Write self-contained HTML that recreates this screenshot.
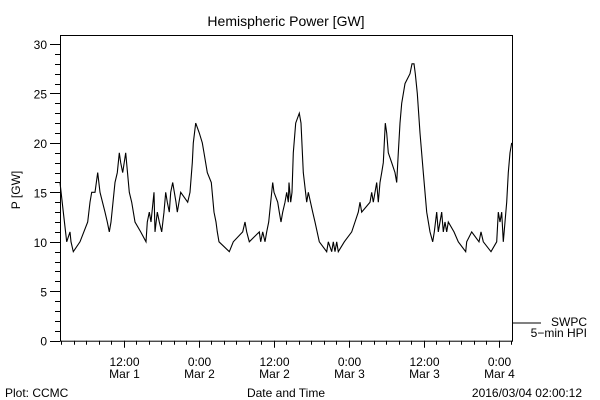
<!DOCTYPE html>
<html><head><meta charset="utf-8"><style>
body{margin:0;background:#fff;}
svg{display:block;font-family:"Liberation Sans",sans-serif;}
text{fill:#000;font-size:12px;}
</style></head><body>
<svg id="chart" width="600" height="400">
<text x="286" y="26" text-anchor="middle" style="font-size:14px">Hemispheric Power [GW]</text>
<text transform="translate(20,190) rotate(-90)" text-anchor="middle">P [GW]</text>
<text x="286" y="397" text-anchor="middle">Date and Time</text>
<text x="5" y="397">Plot: CCMC</text>
<text x="582" y="397" text-anchor="end">2016/03/04 02:00:12</text>
<g id="axes"></g>
<g id="series"></g>
<line x1="512" y1="323" x2="541" y2="323" stroke="#000"/>
<text x="587" y="326" text-anchor="end">SWPC</text>
<text x="587" y="337" text-anchor="end">5−min HPI</text>
</svg>
<script>
// hours since plot start (Mar 1 01:48)
const times=[0,0.53,1.07,1.6,1.76,2.13,3.2,4.43,4.8,5.07,5.6,6.03,6.4,7.2,7.57,7.89,8.16,8.8,9.17,9.49,9.71,10.03,10.51,11.09,11.47,12.0,12.91,13.76,13.97,14.29,14.56,15.04,15.2,15.57,15.89,16.27,16.64,16.91,17.17,17.49,17.71,18.03,18.56,18.77,19.04,19.31,20.43,20.8,21.17,21.33,21.71,22.29,22.77,23.04,23.57,24.21,24.64,24.96,25.17,25.44,27.09,27.73,29.23,29.6,29.87,30.29,31.89,32.11,32.43,32.8,33.07,33.39,33.71,34.03,34.24,34.83,35.09,35.36,35.63,36.0,36.27,36.53,36.64,36.91,37.12,37.33,37.71,38.29,38.56,38.93,39.47,39.73,40.43,40.8,41.49,42.67,42.93,43.47,43.73,44.0,44.27,44.53,45.49,46.67,47.2,47.73,48.0,48.27,49.6,49.87,50.13,50.4,50.67,50.93,51.2,51.47,51.73,52.05,52.27,52.53,53.07,53.6,53.87,54.13,54.4,54.67,55.2,56.0,56.32,56.64,56.85,57.17,57.6,58.13,58.67,59.2,59.63,59.89,60.27,60.53,60.8,61.07,61.33,61.6,61.87,62.13,63.04,63.73,64.91,65.07,65.87,67.04,67.36,67.73,68.96,69.87,70.13,70.4,70.67,70.93,71.2,71.47,71.73,72.0,72.27];
const power=[16,13,10,11,10,9,10,12,14,15,15,17,15,13,12,11,12,16,17,19,18,17,19,15,14,12,11,10,12,13,12,15,11,13,12,11,13,15,14,13,15,16,14,13,14,15,14,15,18,20,22,21,20,19,17,16,13,12,11,10,9,10,11,12,11,10,11,10,11,10,11,12,14,16,15,14,13,12,13,14,15,14,16,14,15,19,22,23,22,17,14,15,13,12,10,9,10,9,10,9,10,9,10,11,12,13,14,13,14,15,14,15,16,14,16,17,18,22,21,19,18,17,16,19,22,24,26,27,28,28,27,25,21,17,13,11,10,11,13,11,12,13,11,12,11,12,11,10,9,10,11,10,11,10,9,10,13,12,13,10,12,14,17,19,20];
const yTicks=[0,5,10,15,20,25,30];
const xTickHours=[10.2,22.2,34.2,46.2,58.2,70.2];
const xTickTime=["12:00","0:00","12:00","0:00","12:00","0:00"];
const xTickDate=["Mar 1","Mar 2","Mar 2","Mar 3","Mar 3","Mar 4"];
const X0=60,X1=512,Y0=340.7,Y1=44;
const hMax=(X1-X0)/6.25;
const sx=h=>X0+h*6.25;
const sy=v=>Y0-(v/30)*(Y0-Y1);
const NS="http://www.w3.org/2000/svg";
const ax=document.getElementById('axes'), se=document.getElementById('series');
function mk(tag,attrs,parent){const e=document.createElementNS(NS,tag);for(const k in attrs)e.setAttribute(k,attrs[k]);parent.appendChild(e);return e;}
const frame=mk('rect',{x:X0+0.5,y:35.5,width:X1-X0,height:Y0-35,fill:'none',stroke:'#000'},ax);


for(let v=0;v<=30;v++){
  const major=v%5===0;
  const y=Math.round(sy(v))+0.5;
  const t=mk('line',{x1:X0-(major?10:5),x2:X0,y1:y,y2:y,stroke:'#000'},ax);
  
  
}
yTicks.forEach(v=>{
  const t=mk('text',{x:X0-13,y:sy(v)+5,'text-anchor':'end'},ax);
  t.textContent=String(v);
  
  
});
for(let h=0.2;h<=hMax;h+=2){
  const x=Math.round(sx(h))+0.5;
  const t=mk('line',{x1:x,x2:x,y1:Y0,y2:Y0+4,stroke:'#000'},ax);
  
  
}
xTickHours.forEach((h,i)=>{
  const x=Math.round(sx(h))+0.5;
  const t=mk('line',{x1:x,x2:x,y1:Y0,y2:Y0+7,stroke:'#000'},ax);
  
  
  const a=mk('text',{x:x,y:366,'text-anchor':'middle'},ax);
  a.textContent=xTickTime[i];
  
  
  const b=mk('text',{x:x,y:378,'text-anchor':'middle'},ax);
  b.textContent=xTickDate[i];
  
  
});
let d='';
times.forEach((h,i)=>{
  const x=sx(h).toFixed(1), y=sy(power[i]).toFixed(1);
  d+=(i===0?'M':'L')+x+' '+y;
});
const p=mk('path',{d:d,fill:'none',stroke:'#000','stroke-width':1.1},se);


</script>
</body></html>
